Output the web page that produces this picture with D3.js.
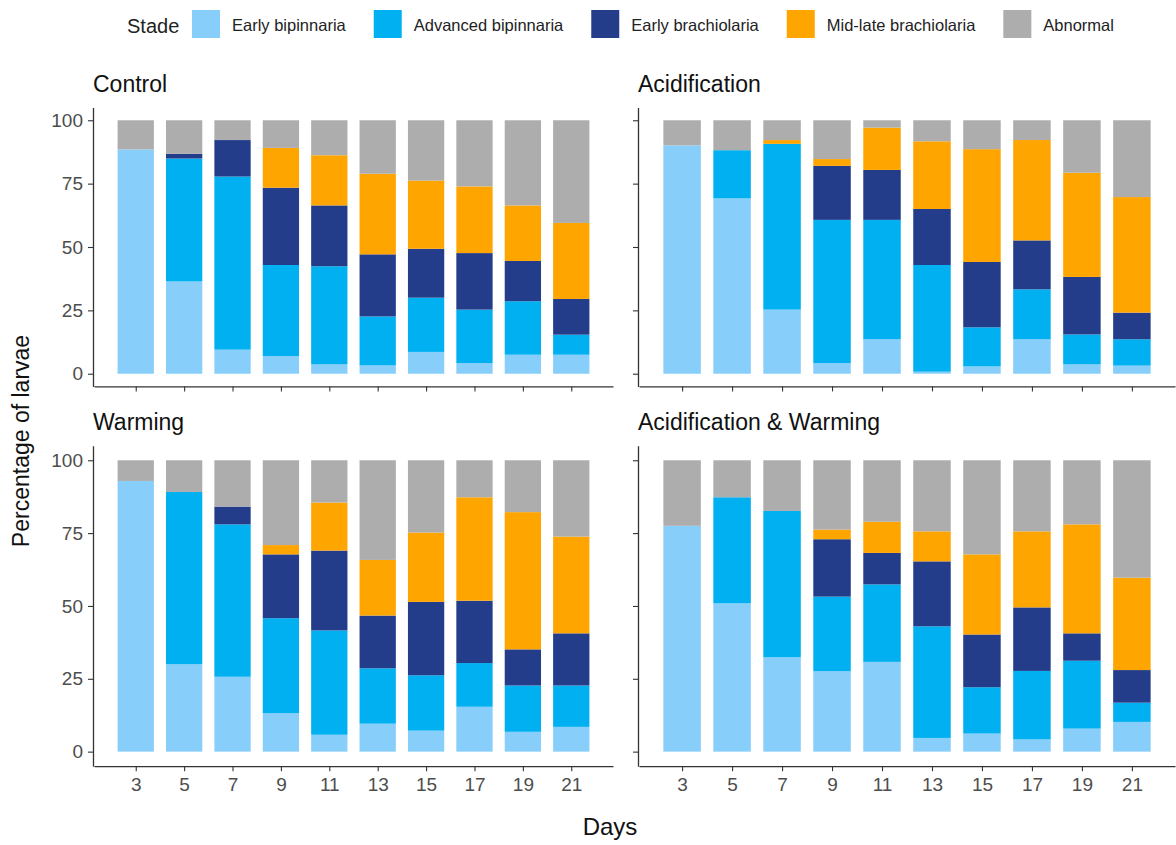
<!DOCTYPE html>
<html>
<head>
<meta charset="utf-8">
<script src="https://cdn.jsdelivr.net/npm/d3@7"></script>
<style>
    body { margin: 0; background: #fff; }
    svg { font-family: "Liberation Sans", Arial, sans-serif; }
    .axis .domain { stroke: #333; stroke-width: 1.3; }
    .axis line { stroke: #333; stroke-width: 1.1; }
    .axis text { fill: #4d4d4d; font-size: 19px; }
</style>
</head>
<body>
<div class="content"></div>
<script>
var days = [3, 5, 7, 9, 11, 13, 15, 17, 19, 21];
var stages = ["Early bipinnaria", "Advanced bipinnaria", "Early brachiolaria", "Mid-late brachiolaria", "Abnormal"];
var stageColors = ["#87CEFA", "#00B0F0", "#243D8A", "#FFA500", "#ADADAD"];
var yTicks = [0, 25, 50, 75, 100];

// one row per stage, one value per day (percent)
var control = [
    [88.5, 36.4, 9.5, 7.0, 3.7, 3.3, 8.6, 4.2, 7.5, 7.5],
    [0, 48.5, 68.3, 35.9, 38.7, 19.3, 21.4, 21.1, 21.1, 7.9],
    [0, 1.9, 14.4, 30.5, 24.0, 24.5, 19.3, 22.3, 15.9, 14.1],
    [0, 0, 0, 15.7, 19.8, 31.8, 26.9, 26.3, 21.9, 30.0],
    [11.5, 13.2, 7.8, 10.9, 13.8, 21.1, 23.8, 26.1, 33.6, 40.5]
];
var acidification = [
    [90.1, 69.2, 25.3, 4.2, 13.6, 0.8, 2.9, 13.6, 3.7, 3.2],
    [0, 19.0, 65.4, 56.5, 47.1, 42.1, 15.4, 19.7, 11.8, 10.4],
    [0, 0, 0, 21.3, 19.7, 22.1, 25.8, 19.3, 22.7, 10.5],
    [0, 0, 1.5, 2.7, 16.7, 26.7, 44.5, 39.6, 41.1, 45.6],
    [9.9, 11.8, 7.8, 15.3, 2.9, 8.3, 11.4, 7.8, 20.7, 30.3]
];
var warming = [
    [92.9, 30.0, 25.7, 13.2, 5.8, 9.6, 7.2, 15.4, 6.8, 8.5],
    [0, 59.1, 52.3, 32.6, 35.8, 19.0, 19.0, 15.0, 15.9, 14.2],
    [0, 0, 6.1, 21.9, 27.4, 18.1, 25.2, 21.4, 12.4, 17.9],
    [0, 0, 0, 3.2, 16.5, 19.1, 23.8, 35.5, 47.1, 33.2],
    [7.1, 10.9, 15.9, 29.1, 14.5, 34.2, 24.8, 12.7, 17.8, 26.2]
];
var acidWarming = [
    [77.5, 50.9, 32.4, 27.6, 30.8, 4.7, 6.2, 4.2, 7.9, 10.2],
    [0, 36.4, 50.2, 25.6, 26.6, 38.3, 15.9, 23.5, 23.3, 6.6],
    [0, 0, 0, 19.7, 10.8, 22.3, 18.1, 21.8, 9.4, 11.2],
    [0, 0, 0, 3.3, 10.7, 10.3, 27.5, 26.1, 37.4, 31.7],
    [22.5, 12.7, 17.4, 23.8, 21.1, 24.4, 32.3, 24.4, 22.0, 40.3]
];

var panels = [
    {"title": "Control", "values": control, "left": 94, "right": 613, "top": 107.6, "bottom": 386.4, "xText": false, "yText": true},
    {"title": "Acidification", "values": acidification, "left": 639, "right": 1175, "top": 107.6, "bottom": 386.4, "xText": false, "yText": false},
    {"title": "Warming", "values": warming, "left": 94, "right": 613, "top": 445.7, "bottom": 766.2, "xText": true, "yText": true},
    {"title": "Acidification & Warming", "values": acidWarming, "left": 639, "right": 1175, "top": 445.7, "bottom": 766.2, "xText": true, "yText": false}
];

var svg = d3.select("div.content").append("svg")
    .attr("width", 1176)
    .attr("height", 845);

var stack = d3.stack().keys(d3.range(stages.length));
var barWidth = 1.5; // in days

panels.forEach(function(p){
    var rows = days.map(function(day, i){
        var r = {"day": day};
        p.values.forEach(function(series, s){ r[s] = series[i]; });
        return r;
    });

    // continuous day axis, ggplot-like expansion
    var x = d3.scaleLinear().domain([1.275, 22.725]).range([p.left, p.right]);
    var y = d3.scaleLinear().domain([-5, 105]).range([p.bottom, p.top]);

    var g = svg.append("g");

    //bars
    g.selectAll(".layer")
        .data(stack(rows))
    .enter().append("g")
        .attr("class", "layer")
        .style("fill", function(d){ return stageColors[d.key]; })
        .selectAll("rect")
        .data(function(d){ return d; })
    .enter().append("rect")
        .attr("x", function(d){ return x(d.data.day - barWidth / 2); })
        .attr("width", function(d){ return x(barWidth) - x(0); })
        .attr("y", function(d){ return y(d[1]); })
        .attr("height", function(d){ return y(d[0]) - y(d[1]); });

    //x-axis
    var xAxis = d3.axisBottom(x).tickValues(days).tickSizeOuter(0).tickSizeInner(5).tickPadding(6);
    var gx = g.append("g")
        .attr("class", "axis")
        .attr("transform", "translate(0," + p.bottom + ")")
        .call(xAxis);
    if (!p.xText) gx.selectAll("text").remove();

    //y-axis
    var yAxis = d3.axisLeft(y).tickValues(yTicks).tickSizeOuter(0).tickSizeInner(5).tickPadding(5);
    var gy = g.append("g")
        .attr("class", "axis")
        .attr("transform", "translate(" + (p.left - 1) + ",0)")
        .call(yAxis);
    if (!p.yText) gy.selectAll("text").remove();

    //panel title
    g.append("text")
        .attr("x", p.left - 1)
        .attr("y", p.top - 15.5)
        .style("font-size", "23px")
        .style("fill", "#111")
        .text(p.title);
});

//axis titles
svg.append("text")
    .attr("x", 610)
    .attr("y", 835)
    .style("text-anchor", "middle")
    .style("font-size", "24px")
    .style("fill", "#111")
    .text("Days");

svg.append("text")
    .attr("transform", "translate(29,441) rotate(-90)")
    .style("text-anchor", "middle")
    .style("font-size", "23px")
    .style("fill", "#111")
    .text("Percentage of larvae");

//legend
var legend = svg.append("g");
legend.append("text")
    .attr("x", 127)
    .attr("y", 33)
    .style("font-size", "20px")
    .style("fill", "#222")
    .text("Stade");

var lx = 192;
stages.forEach(function(name, i){
    legend.append("rect")
        .attr("x", lx)
        .attr("y", 10)
        .attr("width", 28)
        .attr("height", 28)
        .style("fill", stageColors[i]);
    var t = legend.append("text")
        .attr("x", lx + 40)
        .attr("y", 31)
        .style("font-size", "16.5px")
        .style("fill", "#222")
        .text(name);
    lx = lx + 40 + t.node().getComputedTextLength() + 28;
});
</script>
</body>
</html>
